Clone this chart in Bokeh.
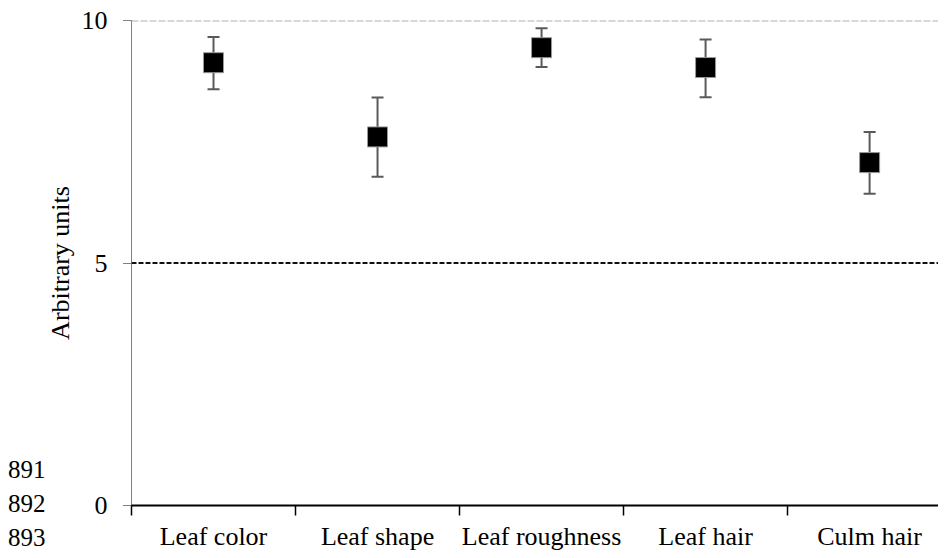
import numpy as np
from bokeh.plotting import figure
from bokeh.layouts import row
from bokeh.models import (ColumnDataSource, Range1d, LinearAxis, FixedTicker, Span,
                          Whisker, TeeHead, Div)
from bokeh.embed import file_html
from bokeh.resources import INLINE

categories = ["Leaf color", "Leaf shape", "Leaf roughness", "Leaf hair", "Culm hair"]
means = [9.13, 7.60, 9.44, 9.03, 7.07]
upper = [9.66, 8.41, 9.84, 9.61, 7.70]
lower = [8.58, 6.78, 9.04, 8.42, 6.43]
y_ticks = [0, 5, 10]
reference_lines = [5, 10]
line_numbers = ["891", "892", "893"]

FONT = "Liberation Serif"

xs = list(np.arange(len(categories)) + 0.5)
src = ColumnDataSource(dict(x=xs, y=means, upper=upper, lower=lower))

p = figure(width=896, height=553, output_backend="svg", toolbar_location=None,
           x_range=Range1d(0, 4.92), y_range=Range1d(0, 10),
           x_axis_type=None, y_axis_type=None,
           min_border_left=89, min_border_right=0, min_border_top=20, min_border_bottom=40)
p.outline_line_color = None
p.xgrid.visible = False
p.ygrid.visible = False
p.background_fill_color = "white"
p.border_fill_color = None  # transparent so the margin line numbers stay visible

# y axis
yax = LinearAxis(ticker=FixedTicker(ticks=y_ticks, minor_ticks=[]))
yax.axis_line_color = "black"
yax.axis_line_width = 1
yax.axis_line_dash = "1 1"
yax.major_tick_line_dash = "1 1"
yax.major_tick_out = 8
yax.major_tick_in = 0
yax.minor_tick_line_color = None
yax.major_label_text_font = FONT
yax.major_label_text_font_size = "26px"
yax.major_label_text_color = "black"
yax.major_label_standoff = 16
yax.axis_label = "Arbitrary units"
yax.axis_label_text_font = FONT
yax.axis_label_text_font_size = "26px"
yax.axis_label_text_font_style = "normal"
yax.axis_label_text_color = "black"
yax.axis_label_standoff = 4
p.add_layout(yax, "left")

# x axis: ticks at category boundaries, labels at centres
xax = LinearAxis(ticker=FixedTicker(ticks=xs, minor_ticks=list(range(len(categories) + 1))))
xax.major_label_overrides = {float(x): c for x, c in zip(xs, categories)}
xax.axis_line_color = "black"
xax.axis_line_width = 2
xax.major_tick_line_color = None
xax.major_tick_out = 0
xax.major_tick_in = 0
xax.minor_tick_line_color = "black"
xax.minor_tick_line_width = 1.5
xax.minor_tick_out = 10
xax.minor_tick_in = 0
xax.major_label_text_font = FONT
xax.major_label_text_font_size = "26px"
xax.major_label_text_color = "black"
xax.major_label_standoff = 6
p.add_layout(xax, "below")

# reference lines
p.add_layout(Span(location=reference_lines[0], dimension="width", line_color="#111111",
                  line_width=2, line_dash="5 2"))
p.add_layout(Span(location=reference_lines[1], dimension="width", line_color="#b0b0b0",
                  line_width=2, line_dash="7 2"))

# error bars
w = Whisker(source=src, base="x", upper="upper", lower="lower", level="underlay",
            line_color="#5a5a5a", line_width=2,
            upper_head=TeeHead(size=12, line_color="#5a5a5a", line_width=2),
            lower_head=TeeHead(size=12, line_color="#5a5a5a", line_width=2))
p.add_layout(w)

p.scatter("x", "y", source=src, marker="square", size=20, fill_color="black",
          line_color="#999999", line_width=1)

# stray line numbers in the left margin
numbers_html = (
    "<div style=\"font-family:'Liberation Serif'; font-size:25px; line-height:34px; "
    "color:black; padding-top:453px; padding-left:8px; margin:0; white-space:nowrap; "
    "overflow:visible;\">"
    + "<br>".join(line_numbers) + "</div>"
)
div = Div(text=numbers_html, width=42, height=553, margin=0,
          styles={"overflow": "visible", "z-index": "2"})

layout = row(div, p, spacing=0)
open("out.html", "w").write(file_html(layout, INLINE))
